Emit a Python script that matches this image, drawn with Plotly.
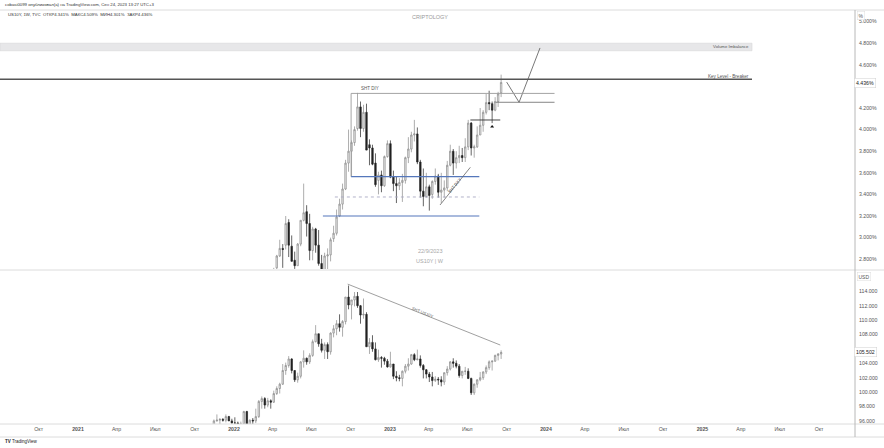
import plotly.graph_objects as go
import pandas as pd

# ---------------- data ----------------
us10y_start, us10y_end = "2022-03-07", "2023-09-18"
us10y_open = [
    1.73, 1.99, 2.15, 2.48, 2.39, 2.72, 2.83, 2.90, 2.93, 3.14,
    2.92, 2.79, 2.74, 2.94, 3.16, 3.24, 3.13, 2.88, 3.08, 2.93,
    2.76, 2.65, 2.83, 2.84, 2.99, 3.04, 3.20, 3.31, 3.45, 3.69,
    3.80, 3.88, 4.01, 4.21, 4.01, 4.16, 3.86, 3.83, 3.69, 3.53,
    3.58, 3.48, 3.75, 3.87, 3.56, 3.50, 3.48, 3.51, 3.53, 3.74,
    3.82, 3.95, 3.96, 3.70, 3.43, 3.38, 3.47, 3.40, 3.52, 3.57,
    3.42, 3.44, 3.46, 3.67, 3.80, 3.69, 3.74, 3.76, 3.74, 3.84,
    4.06, 3.83, 3.84, 3.95, 4.04, 4.16, 4.25, 4.24, 4.18, 4.26,
    4.341]
us10y_high = [
    2.01, 2.24, 2.50, 2.56, 2.72, 2.84, 2.98, 2.94, 3.20, 3.17,
    3.02, 2.87, 2.95, 3.16, 3.50, 3.30, 3.22, 3.10, 3.09, 3.07,
    2.84, 2.86, 2.90, 3.00, 3.11, 3.26, 3.36, 3.50, 3.72, 4.00,
    3.90, 4.03, 4.34, 4.26, 4.23, 4.24, 3.91, 3.86, 3.78, 3.61,
    3.62, 3.76, 3.90, 3.90, 3.62, 3.57, 3.55, 3.59, 3.75, 3.93,
    3.98, 4.09, 4.02, 3.72, 3.64, 3.60, 3.49, 3.53, 3.64, 3.59,
    3.60, 3.53, 3.71, 3.86, 3.82, 3.80, 3.85, 3.83, 3.92, 4.09,
    4.07, 3.86, 4.03, 4.20, 4.18, 4.33, 4.36, 4.26, 4.30, 4.35,
    4.509]
us10y_low = [
    1.68, 1.99, 2.14, 2.33, 2.36, 2.66, 2.82, 2.72, 2.89, 2.82,
    2.78, 2.71, 2.74, 2.92, 3.15, 3.01, 2.79, 2.79, 2.86, 2.74,
    2.64, 2.52, 2.70, 2.78, 2.96, 3.02, 3.19, 3.26, 3.44, 3.61,
    3.57, 3.85, 3.99, 3.93, 3.98, 3.81, 3.67, 3.67, 3.47, 3.40,
    3.42, 3.47, 3.74, 3.55, 3.43, 3.32, 3.44, 3.33, 3.50, 3.69,
    3.79, 3.89, 3.68, 3.37, 3.29, 3.37, 3.25, 3.36, 3.49, 3.37,
    3.32, 3.37, 3.43, 3.66, 3.58, 3.64, 3.69, 3.70, 3.70, 3.81,
    3.76, 3.74, 3.83, 3.95, 3.98, 4.14, 4.18, 4.06, 4.17, 4.21,
    4.301]
us10y_close = [
    2.00, 2.15, 2.48, 2.38, 2.70, 2.83, 2.90, 2.89, 3.13, 2.93,
    2.78, 2.74, 2.94, 3.16, 3.23, 3.13, 2.88, 3.08, 2.93, 2.76,
    2.65, 2.83, 2.84, 2.98, 3.04, 3.19, 3.31, 3.45, 3.69, 3.80,
    3.88, 4.00, 4.21, 4.01, 4.16, 3.81, 3.83, 3.68, 3.49, 3.58,
    3.48, 3.75, 3.87, 3.56, 3.50, 3.48, 3.51, 3.53, 3.74, 3.82,
    3.95, 3.96, 3.70, 3.43, 3.38, 3.47, 3.39, 3.52, 3.57, 3.42,
    3.44, 3.46, 3.67, 3.80, 3.69, 3.74, 3.76, 3.74, 3.84, 4.06,
    3.83, 3.84, 3.95, 4.04, 4.16, 4.25, 4.24, 4.18, 4.26, 4.33,
    4.436]

dxy_start, dxy_end = "2021-11-08", "2023-09-18"
dxy_open = [
    94.3, 95.1, 96.0, 96.1, 96.2, 96.1, 96.6, 96.0, 95.7, 95.7,
    95.2, 95.6, 97.3, 95.5, 96.1, 96.0, 96.6, 98.7, 99.1, 98.2,
    98.8, 98.6, 99.8, 100.5, 101.1, 103.0, 103.7, 104.6, 103.0, 101.7,
    102.2, 104.2, 104.7, 104.2, 105.1, 107.0, 108.1, 106.7, 105.8, 106.6,
    105.6, 108.2, 108.8, 109.5, 109.0, 109.8, 113.2, 112.1, 112.8, 113.3,
    112.0, 110.7, 110.8, 106.3, 106.9, 106.0, 104.5, 104.8, 104.7, 104.3,
    103.5, 103.9, 102.2, 102.0, 101.9, 102.9, 103.6, 103.9, 105.2, 104.5,
    104.6, 103.7, 103.1, 102.5, 102.1, 101.6, 101.8, 101.7, 101.4, 102.7,
    103.2, 104.2, 104.0, 103.6, 102.3, 102.9, 102.9, 101.9, 99.9, 101.1,
    101.7, 102.0, 102.8, 103.4, 104.2, 104.3, 105.1, 105.3]
dxy_high = [
    95.3, 96.2, 96.9, 96.4, 96.4, 96.9, 96.7, 96.3, 96.5, 95.9,
    95.9, 97.4, 97.4, 96.2, 96.4, 97.7, 98.9, 99.4, 99.3, 99.2,
    99.0, 100.2, 100.8, 101.3, 103.9, 104.1, 105.0, 104.7, 103.0, 102.7,
    104.3, 105.8, 104.8, 105.4, 107.3, 109.3, 108.1, 107.4, 106.9, 106.9,
    108.3, 109.3, 110.0, 110.8, 110.0, 113.2, 114.8, 112.8, 113.9, 113.9,
    112.1, 113.0, 111.1, 107.5, 107.9, 106.9, 105.9, 105.0, 104.9, 104.6,
    105.6, 103.9, 102.9, 102.4, 103.0, 103.9, 104.7, 105.3, 105.4, 105.9,
    105.1, 103.9, 103.2, 102.8, 102.8, 102.2, 102.1, 102.2, 102.7, 103.6,
    104.3, 104.7, 104.4, 103.9, 102.9, 103.5, 103.3, 102.0, 101.2, 101.8,
    102.8, 102.9, 103.7, 104.4, 104.4, 105.2, 105.4, 105.8]
dxy_low = [
    94.0, 95.0, 95.9, 95.5, 95.9, 95.8, 96.0, 95.6, 95.6, 94.6,
    95.1, 95.5, 95.2, 95.2, 95.5, 95.7, 96.4, 97.7, 97.7, 97.9,
    97.7, 98.5, 99.6, 99.8, 101.0, 102.4, 103.4, 102.6, 101.4, 101.3,
    101.9, 103.4, 103.8, 103.9, 104.9, 106.9, 106.3, 105.5, 104.6, 104.6,
    105.2, 107.6, 107.9, 108.4, 107.7, 109.4, 111.5, 110.1, 111.9, 111.7,
    109.5, 110.2, 106.3, 105.3, 105.6, 104.4, 104.2, 103.4, 103.8, 103.4,
    103.4, 101.8, 101.5, 101.5, 100.8, 102.6, 103.0, 103.8, 104.3, 104.4,
    103.4, 101.9, 101.9, 101.4, 100.8, 101.4, 101.0, 100.8, 101.0, 102.3,
    103.0, 103.4, 103.3, 102.0, 101.9, 102.4, 101.8, 99.6, 99.6, 100.6,
    101.5, 101.7, 102.5, 103.1, 103.0, 104.2, 104.4, 104.6]
dxy_close = [
    95.1, 96.0, 96.1, 96.2, 96.1, 96.6, 96.0, 95.7, 95.7, 95.2,
    95.6, 97.3, 95.5, 96.1, 96.0, 96.6, 98.7, 99.1, 98.2, 98.8,
    98.6, 99.8, 100.5, 101.1, 103.0, 103.7, 104.6, 103.0, 101.7, 102.2,
    104.2, 104.7, 104.2, 105.1, 107.0, 108.1, 106.7, 105.8, 106.6, 105.6,
    108.2, 108.8, 109.5, 109.0, 109.8, 113.2, 112.1, 112.8, 113.3, 112.0,
    110.7, 110.8, 106.3, 106.9, 106.0, 104.5, 104.8, 104.7, 104.3, 103.5,
    103.9, 102.2, 102.0, 101.9, 102.9, 103.6, 103.9, 105.2, 104.5, 104.6,
    103.7, 103.1, 102.5, 102.1, 101.6, 101.8, 101.7, 101.4, 102.7, 103.2,
    104.2, 104.0, 103.6, 102.3, 102.9, 102.9, 101.9, 99.9, 101.1, 101.7,
    102.0, 102.8, 103.4, 104.2, 104.3, 105.1, 105.3, 105.502]

x_tick_dates = ["2020-10-01", "2021-01-01", "2021-04-01", "2021-07-01",
                "2021-10-01", "2022-01-01", "2022-04-01", "2022-07-01",
                "2022-10-01", "2023-01-01", "2023-04-01", "2023-07-01",
                "2023-10-01", "2024-01-01", "2024-04-01", "2024-07-01",
                "2024-10-01", "2025-01-01", "2025-04-01", "2025-07-01",
                "2025-10-01"]
x_tick_labels = ["Окт", "<b>2021</b>", "Апр", "Июл", "Окт", "<b>2022</b>", "Апр", "Июл",
                 "Окт", "<b>2023</b>", "Апр", "Июл", "Окт", "<b>2024</b>", "Апр", "Июл",
                 "Окт", "<b>2025</b>", "Апр", "Июл", "Окт"]
us10y_ticks = [2.8, 3.0, 3.2, 3.4, 3.6, 3.8, 4.0, 4.2, 4.6, 4.8, 5.0]
dxy_ticks = [96, 98, 100, 102, 104, 108, 110, 112, 114]

# drawing levels (chart annotations, in data units)
volume_imbalance = (4.73, 4.80)
key_level = 4.466
draw_end = "2025-04-27"
sht_diy_high = 4.335
sht_diy_low = 4.253
range_high = 3.564
range_mid = 3.376
range_low = 3.20
bos_level = 4.089
marker_point = ("2023-08-28", 4.027)
sht_dxy_line = (["2023-04-28", "2023-07-08"], [3.302, 3.651])
projection_x = ["2023-10-01", "2023-10-30", "2023-12-18"]
projection_y = [4.44, 4.253, 4.756]
sht_us10y_line = (["2022-09-24", "2023-09-16"], [115.0, 106.54])

# ---------------- geometry ----------------
W, H = 884, 448
ML, MR, MT, MB = 0, 29, 10, 24
PW, PH = W - ML - MR, H - MT - MB


def pp(x, y):
    return (x - ML) / PW, (H - MB - y) / PH


top_dom = [pp(0, 269)[1], 1.0]
bot_dom = [0.0, pp(0, 271)[1]]
x_range = ["2020-07-02 12:00", "2025-12-24"]
FONT = "Liberation Sans, Arial, sans-serif"

us10y_dates = pd.date_range(us10y_start, us10y_end, freq="W-MON")
dxy_dates = pd.date_range(dxy_start, dxy_end, freq="W-MON")
assert len(us10y_dates) == len(us10y_close) == len(us10y_open) == len(us10y_high) == len(us10y_low)
assert len(dxy_dates) == len(dxy_close) == len(dxy_open) == len(dxy_high) == len(dxy_low)

inc = dict(line=dict(color="#8a8a8a", width=0.7), fillcolor="#eeeeee")
dec = dict(line=dict(color="#222222", width=0.7), fillcolor="#222222")

fig = go.Figure()
fig.add_trace(go.Candlestick(x=us10y_dates, open=us10y_open, high=us10y_high,
                             low=us10y_low, close=us10y_close, increasing=inc,
                             decreasing=dec, whiskerwidth=0, xaxis="x", yaxis="y",
                             showlegend=False, hoverinfo="skip"))
fig.add_trace(go.Candlestick(x=dxy_dates, open=dxy_open, high=dxy_high,
                             low=dxy_low, close=dxy_close, increasing=inc,
                             decreasing=dec, whiskerwidth=0, xaxis="x2", yaxis="y2",
                             showlegend=False, hoverinfo="skip"))

# projection path
fig.add_trace(go.Scatter(x=projection_x, y=projection_y, mode="lines",
                         line=dict(color="#555555", width=0.8), xaxis="x", yaxis="y",
                         showlegend=False, hoverinfo="skip"))
fig.add_trace(go.Scatter(x=[marker_point[0]], y=[marker_point[1]], mode="markers",
                         marker=dict(symbol="triangle-up", size=3.5, color="#111111"),
                         xaxis="x", yaxis="y", showlegend=False, hoverinfo="skip"))

shapes = []


def hline(y, x0, x1, color, width=1.0, dash="solid", yref="y", xref="x"):
    shapes.append(dict(type="line", xref=xref, yref=yref, x0=x0, x1=x1, y0=y, y1=y,
                       line=dict(color=color, width=width, dash=dash), layer="above"))


# volume imbalance box
shapes.append(dict(type="rect", xref="x", yref="y", x0=x_range[0], x1=draw_end,
                   y0=volume_imbalance[0], y1=volume_imbalance[1],
                   fillcolor="#e7e7e9", line=dict(color="#d6d6d8", width=0.6), layer="below"))
hline(key_level, x_range[0], draw_end, "#555555", 1.3)
hline(sht_diy_high, "2022-10-02", "2024-01-21", "#9a9a9a", 0.9)
hline(sht_diy_low, "2023-09-06", "2024-01-21", "#777777", 0.9)
shapes.append(dict(type="line", xref="x", yref="y", x0="2022-10-02", x1="2022-10-02",
                   y0=sht_diy_high, y1=range_high, line=dict(color="#9a9a9a", width=0.9)))
hline(range_high, "2022-10-02", "2023-07-29", "#5577bb", 1.2)
hline(range_mid, "2022-08-25", "2023-07-29", "#a9a9c4", 0.9, dash="dot")
hline(range_low, "2022-07-28", "2023-07-29", "#5577bb", 1.2)
hline(bos_level, "2023-07-08", "2023-09-16", "#333333", 0.9)
shapes.append(dict(type="line", xref="x", yref="y", x0=sht_dxy_line[0][0], x1=sht_dxy_line[0][1],
                   y0=sht_dxy_line[1][0], y1=sht_dxy_line[1][1],
                   line=dict(color="#666666", width=0.8)))
shapes.append(dict(type="line", xref="x2", yref="y2", x0=sht_us10y_line[0][0], x1=sht_us10y_line[0][1],
                   y0=sht_us10y_line[1][0], y1=sht_us10y_line[1][1],
                   line=dict(color="#888888", width=0.8)))

# frame lines (paper)
xr = W / PW
for ypx in (10, 270, 424, 437):
    shapes.append(dict(type="line", xref="paper", yref="paper", x0=0, x1=xr,
                       y0=pp(0, ypx)[1], y1=pp(0, ypx)[1],
                       line=dict(color="#dcdcdc", width=1)))
shapes.append(dict(type="line", xref="paper", yref="paper", x0=1, x1=1,
                   y0=pp(0, 10)[1], y1=pp(0, 437)[1], line=dict(color="#b8b8b8", width=1)))

ann = []


def note(text, x, y, size=5, color="#444444", xanchor="left", **kw):
    px_, py_ = pp(x, y)
    ann.append(dict(text=text, x=px_, y=py_, xref="paper", yref="paper", showarrow=False,
                    xanchor=xanchor, yanchor="middle", font=dict(size=size, color=color, family=FONT),
                    **kw))


note("cobasi0099 опубликовал(а) на TradingView.com, Сен 24, 2023 13:27 UTC+3", 3, 5, 4.3, "#333333")
note(f"US10Y, 1W, TVC  ОТКР{us10y_open[-1]:.3f}%  МАКС{us10y_high[-1]:.3f}%  "
     f"МИН{us10y_low[-1]:.3f}%  ЗАКР{us10y_close[-1]:.3f}%", 6, 14, 4.3, "#333333")
note("CRIPTOLOGY", 430, 17, 5.5, "#9a9a9a", xanchor="center")
note("22/9/2023", 430, 251, 5.5, "#a8a8a8", xanchor="center")
note("US10Y | W", 430, 261, 5.5, "#a8a8a8", xanchor="center")
note("Volume Imbalance", 751, 46.5, 4.3, "#555555", xanchor="right")
note("Key Level - Breaker", 751, 76, 4.6, "#555555", xanchor="right")
note("<b>TV</b> TradingView", 3, 441, 4.5, "#222222")
note("%", 857, 15, 5, "#555555", bgcolor="white", bordercolor="#dddddd", borderwidth=0.5, borderpad=1)
note("USD", 857, 276, 5, "#555555", bgcolor="white", bordercolor="#dddddd", borderwidth=0.5, borderpad=1)

ann.append(dict(text="SHT DIY", x="2022-10-20", y=sht_diy_high, xref="x", yref="y",
                showarrow=False, xanchor="left", yanchor="bottom", yshift=0,
                font=dict(size=4.5, color="#555555", family=FONT)))
ann.append(dict(text="SHT DXY", x="2023-06-02", y=3.478, xref="x", yref="y", showarrow=False,
                textangle=-51, font=dict(size=4.2, color="#555555", family=FONT)))
ann.append(dict(text="SHT US10Y", x="2023-03-19", y=110.99, xref="x2", yref="y2", showarrow=False,
                textangle=22, font=dict(size=4.2, color="#666666", family=FONT)))
# last-price labels on the axes
ann.append(dict(text=f"{us10y_close[-1]:.3f}%", x=1.0, y=us10y_close[-1], xref="paper", yref="y",
                showarrow=False, xanchor="left", xshift=-1, bgcolor="white", bordercolor="#cfcfcf",
                borderwidth=0.5, borderpad=1.5, font=dict(size=5.2, color="#222222", family=FONT)))
ann.append(dict(text=f"{dxy_close[-1]:.3f}", x=1.0, y=dxy_close[-1], xref="paper", yref="y2",
                showarrow=False, xanchor="left", xshift=-1, bgcolor="white", bordercolor="#cfcfcf",
                borderwidth=0.5, borderpad=1.5, font=dict(size=5.2, color="#222222", family=FONT)))

axis_font = dict(size=5.2, color="#555555", family=FONT)
fig.update_layout(
    template="none",
    width=W, height=H, margin=dict(l=ML, r=MR, t=MT, b=MB, autoexpand=False),
    paper_bgcolor="white", plot_bgcolor="white", showlegend=False, hovermode=False,
    xaxis=dict(domain=[0, 1], anchor="y", range=x_range, type="date", showticklabels=False,
               showgrid=False, zeroline=False, rangeslider=dict(visible=False), ticks="",
               automargin=False, showline=False),
    xaxis2=dict(domain=[0, 1], anchor="y2", range=x_range, type="date", matches="x",
                tickvals=x_tick_dates, ticktext=x_tick_labels, tickfont=axis_font,
                showgrid=False, zeroline=False, rangeslider=dict(visible=False), ticks="",
                ticklabelstandoff=1, automargin=False, showline=False),
    yaxis=dict(domain=top_dom, anchor="x", side="right", range=[2.7093, 5.1074],
               tickvals=us10y_ticks, ticktext=[f"{v:.3f}%" for v in us10y_ticks],
               tickfont=axis_font, showgrid=False, zeroline=False, ticks="",
               ticklabelstandoff=3, automargin=False, showline=False),
    yaxis2=dict(domain=bot_dom, anchor="x2", side="right", range=[95.57, 116.82],
                tickvals=dxy_ticks, ticktext=[f"{v:.3f}" for v in dxy_ticks],
                tickfont=axis_font, showgrid=False, zeroline=False, ticks="",
                ticklabelstandoff=3, automargin=False, showline=False),
    shapes=shapes, annotations=ann,
)

fig.write_html("out.html", config=dict(displayModeBar=False, staticPlot=True),
               post_script="document.body.style.margin='0';document.body.style.overflow='hidden';")
